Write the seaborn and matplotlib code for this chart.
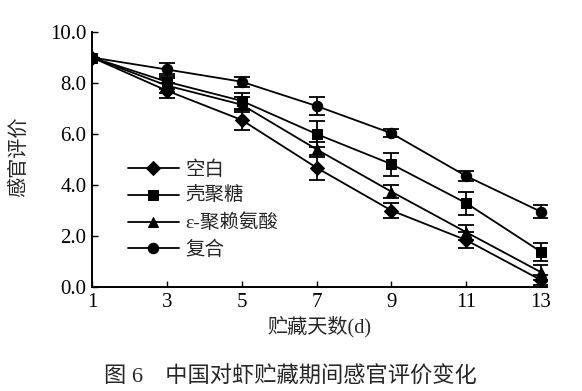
import matplotlib
matplotlib.use("Agg")
import matplotlib.pyplot as plt
import seaborn as sns
import pandas as pd
import numpy as np

days = [1, 3, 5, 7, 9, 11, 13]
series_names = ["空白", "壳聚糖", "ε-聚赖氨酸", "复合"]
blank = [9.0, 7.7, 6.55, 4.68, 3.0, 1.84, 0.27]
chitosan = [9.0, 8.05, 7.3, 6.0, 4.82, 3.29, 1.38]
epl = [9.0, 7.9, 7.15, 5.4, 3.74, 2.15, 0.58]
composite = [9.0, 8.53, 8.05, 7.1, 6.03, 4.35, 2.95]
blank_err = [0.0, 0.3, 0.4, 0.5, 0.3, 0.3, 0.2]
chitosan_err = [0.0, 0.3, 0.3, 0.5, 0.45, 0.45, 0.35]
epl_err = [0.0, 0.3, 0.3, 0.3, 0.25, 0.3, 0.3]
composite_err = [0.0, 0.25, 0.2, 0.35, 0.15, 0.2, 0.25]
yticks = [0.0, 2.0, 4.0, 6.0, 8.0, 10.0]

sns.set_style("ticks")
plt.rcParams["font.family"] = ["Liberation Serif", "Noto Sans CJK SC"]
plt.rcParams["axes.unicode_minus"] = False

vals = [blank, chitosan, epl, composite]
errs = [blank_err, chitosan_err, epl_err, composite_err]
rows = []
for name, v, e in zip(series_names, vals, errs):
    for d, y, er in zip(days, v, e):
        rows.append({"day": d, "score": y, "err": er, "group": name})
df = pd.DataFrame(rows)

fig = plt.figure(figsize=(5.82, 3.91), dpi=100)
ax = fig.add_axes([92/582, 1 - 287/391, (547-92)/582, (287-32)/391])

markers = {"空白": "D", "壳聚糖": "s", "ε-聚赖氨酸": "^", "复合": "o"}
sns.lineplot(data=df, x="day", y="score", style="group", markers=markers,
             dashes=False, color="black", linewidth=1.3, markersize=7.5,
             markeredgecolor="black", ax=ax, legend=True)

for name, v, e in zip(series_names, vals, errs):
    ax.errorbar(days, v, yerr=e, fmt="none", ecolor="black", elinewidth=1.3,
                capsize=6, capthick=1.3)

ax.set_xlim(1, 13.16)
ax.set_ylim(0, 10)
ax.set_xticks(days)
ax.set_xticklabels([str(d) for d in days])
ax.set_yticks(yticks)
ax.set_yticklabels([f"{t:.1f}" for t in yticks])
ax.tick_params(direction="in", length=4, width=1, labelsize=15, colors="black", pad=4)
ax.spines["top"].set_visible(False)
ax.spines["right"].set_visible(False)
for s in ["left", "bottom"]:
    ax.spines[s].set_linewidth(1.4)
    ax.spines[s].set_color("black")
ax.set_xlabel("贮藏天数(d)", fontsize=14.5)
ax.set_ylabel("感官评价", fontsize=14.5)
ax.xaxis.set_label_coords((319-92)/455, (287-327)/255)
ax.yaxis.set_label_coords((19-92)/455, (287-157)/255)
ax.xaxis.label.set_va("center")
ax.yaxis.label.set_va("center")

leg = ax.legend(title=None, loc="upper left", bbox_to_anchor=((128-92)/455, 0.495),
                frameon=False, fontsize=14, handlelength=2.6, labelspacing=0.42,
                handletextpad=0.35, borderpad=0, borderaxespad=0)

fig.text(290/582, 1 - 377/391, "图 6　中国对虾贮藏期间感官评价变化", ha="center",
         va="center", fontsize=16)

fig.savefig("out.png", dpi=100)
